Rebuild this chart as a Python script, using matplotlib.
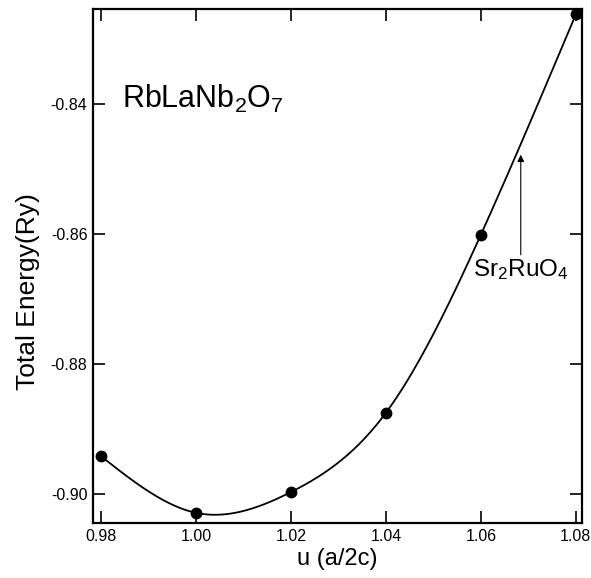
import numpy as np
import matplotlib
matplotlib.use("Agg")
import matplotlib.pyplot as plt

plt.rcParams['font.family'] = ['Liberation Sans', 'DejaVu Sans']
plt.rcParams['mathtext.fontset'] = 'custom'
plt.rcParams['mathtext.rm'] = 'Liberation Sans'
plt.rcParams['mathtext.it'] = 'Liberation Sans'

# data
u = [0.98, 1.00, 1.02, 1.04, 1.06, 1.08]
energy = [-0.8942, -0.9029, -0.8997, -0.8875, -0.8601, -0.8262]
xticks = [0.98, 1.00, 1.02, 1.04, 1.06, 1.08]
yticks = [-0.90, -0.88, -0.86, -0.84]


def natural_spline(x, y, xs):
    "natural cubic spline through the points, evaluated at xs"
    x = np.asarray(x); y = np.asarray(y)
    n = len(x)
    h = np.diff(x)
    A = np.zeros((n, n))
    b = np.zeros(n)
    A[0, 0] = 1
    A[-1, -1] = 1
    for i in range(1, n - 1):
        A[i, i - 1] = h[i - 1]
        A[i, i] = 2 * (h[i - 1] + h[i])
        A[i, i + 1] = h[i]
        b[i] = 6 * ((y[i + 1] - y[i]) / h[i] - (y[i] - y[i - 1]) / h[i - 1])
    M = np.linalg.solve(A, b)
    idx = np.clip(np.searchsorted(x, xs) - 1, 0, n - 2)
    x0, x1 = x[idx], x[idx + 1]
    hh = x1 - x0
    t0 = x1 - xs
    t1 = xs - x0
    return (M[idx] * t0**3 / (6 * hh) + M[idx + 1] * t1**3 / (6 * hh)
            + (y[idx] / hh - M[idx] * hh / 6) * t0
            + (y[idx + 1] / hh - M[idx + 1] * hh / 6) * t1)


fig = plt.figure(figsize=(5.91, 5.78), dpi=100)
ax = fig.add_axes([0.1574, 0.0952, 0.8274, 0.8892])

xs = np.linspace(u[0], u[-1], 400)
ax.plot(xs, natural_spline(u, energy, xs), color='black', lw=1.3)
ax.plot(u, energy, 'o', color='black', ms=7.5)

ax.set_xlim(0.9783, 1.0813)
ax.set_ylim(-0.90446, -0.82538)
ax.set_xticks(xticks)
ax.set_xticklabels(["%.2f" % v for v in xticks])
ax.set_yticks(yticks)
ax.set_yticklabels(["%.2f" % v for v in yticks])
ax.tick_params(direction='in', length=8.5, width=1.2, top=True, right=True,
               labelsize=11.5, pad=4)
for s in ax.spines.values():
    s.set_linewidth(1.6)

ax.set_xlabel("u (a/2c)", fontsize=17, labelpad=3)
ax.set_ylabel("Total Energy(Ry)", fontsize=19)
ax.yaxis.set_label_coords(-0.108, 0.45)

ax.text(0.9844, -0.8392, r"RbLaNb$_2$O$_7$", fontsize=22, va='center', ha='left')
ax.text(1.0583, -0.8655, r"Sr$_2$RuO$_4$", fontsize=17.5, va='center', ha='left')
ax.annotate("", xy=(1.0684, -0.8478), xytext=(1.0684, -0.8632),
            arrowprops=dict(arrowstyle='-|>', color='black', lw=0.8,
                            mutation_scale=10, shrinkA=0, shrinkB=0))

fig.savefig("out.png", dpi=100)
